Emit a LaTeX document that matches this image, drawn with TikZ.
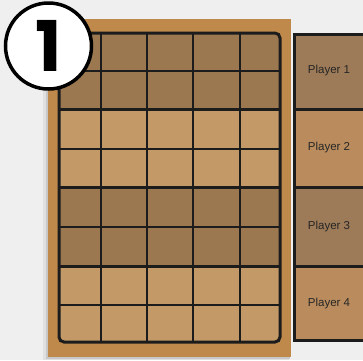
\documentclass[tikz,border=0pt]{standalone}
\usepackage{fontspec}
\setmainfont{Liberation Sans}
\newfontfamily\numfont{Poppins}
\usetikzlibrary{positioning}

\definecolor{bggray}{HTML}{EFEFEF}
\definecolor{cardboard}{HTML}{BF894B}
\definecolor{celldark}{HTML}{9C7850}
\definecolor{celllight}{HTML}{C39A67}
\definecolor{playerdark}{HTML}{9D7A58}
\definecolor{playerlight}{HTML}{BA8C5D}
\definecolor{gridline}{HTML}{1C1C1C}

\begin{document}
\begin{tikzpicture}[
        x=1pt, y=-1pt,
        thinline/.style={gridline, line width=1.6pt},
        thickline/.style={gridline, line width=3pt},
        playertext/.style={font=\fontsize{11.5}{12}\selectfont, text=black!85},
        badge/.style={circle, draw=black, line width=3.5pt, fill=white,
            minimum size=86pt, inner sep=0pt}
    ]
    \useasboundingbox (0,0) rectangle (363,360);
    \fill[bggray] (0,0) rectangle (363,360);

    % board with shadow
    \fill[black!12] (43,24) rectangle (289,360);
    \fill[black!22] (46,22) rectangle (290,359);
    \fill[cardboard] (48,19) rectangle (291,357);

    % bands of the grid
    \begin{scope}
        \clip[rounded corners=5pt] (59,33) rectangle (280,342);
        \foreach \top/\bot/\col in {33/109/celldark, 109/187/celllight,
                                     187/266/celldark, 266/342/celllight}
            \fill[\col] (59,\top) rectangle (280,\bot);
    \end{scope}

    % grid lines
    \foreach \x in {101,147,193,240}
        \draw[thinline] (\x,33) -- (\x,342);
    \foreach \y in {71,149,227,305}
        \draw[thinline] (59,\y) -- (280,\y);
    \foreach \y in {109,187,266}
        \draw[thickline] (59,\y) -- (280,\y);
    \draw[thickline, rounded corners=5pt] (59,33) rectangle (280,342);

    % player column
    \foreach \i/\top/\bot/\col in {1/33/109/playerdark, 2/109/187/playerlight,
                                   3/187/266/playerdark, 4/266/341/playerlight}
    {
        \fill[\col] (294,\top) rectangle (370,\bot);
        \node[playertext] (player\i) at (329,{(\top+\bot)/2}) {Player \i};
    }
    \foreach \y in {109,187,266}
        \draw[thickline] (294,\y) -- (370,\y);
    \draw[thickline] (294.5,34.5) rectangle (372,340);

    % step badge
    \node[badge] (badge) at (48.5,46) {};
    \node[font=\numfont\bfseries\fontsize{70}{70}\selectfont] (stepno)
        at (badge.center) {1};
\end{tikzpicture}
\end{document}
